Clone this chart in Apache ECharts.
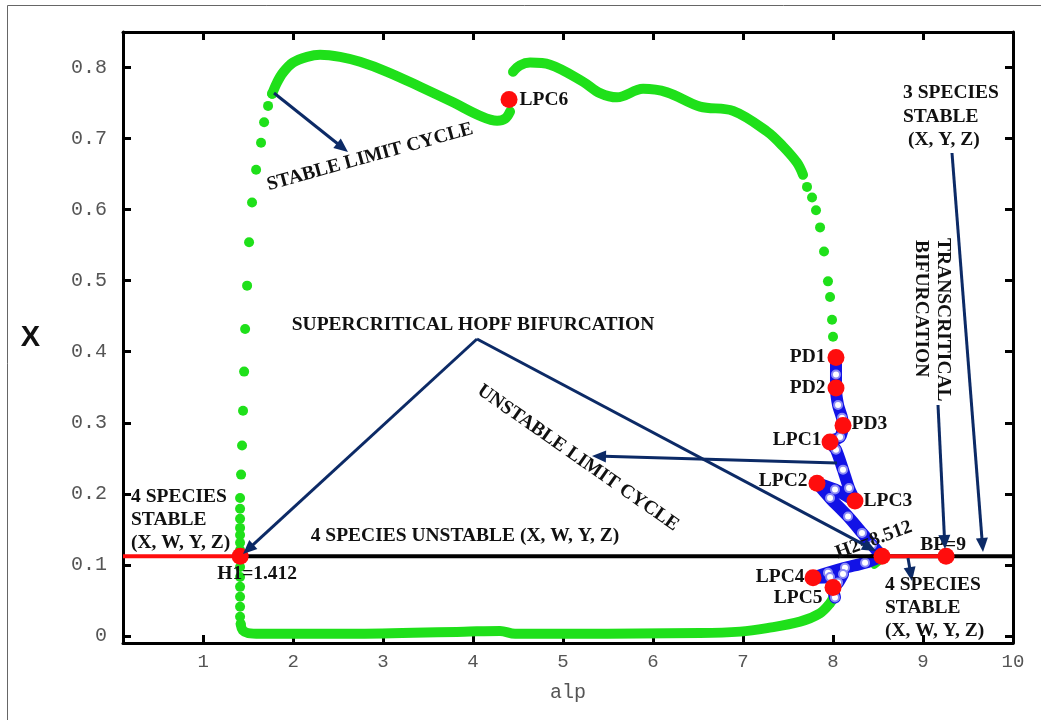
<!DOCTYPE html>
<html><head><meta charset="utf-8">
<script src="https://cdn.jsdelivr.net/npm/echarts@6/dist/echarts.min.js"></script>
<style>html,body{margin:0;padding:0;background:#fff}#c{width:1041px;height:720px}</style>
</head><body><div id="c"></div>
<script>
// ---------- data ----------
const xTicks = [1, 2, 3, 4, 5, 6, 7, 8, 9, 10];
const yTicks = [0, 0.1, 0.2, 0.3, 0.4, 0.5, 0.6, 0.7, 0.8];
const xRange = [0.11, 10];
const yRange = [-0.01, 0.85];

// equilibrium branch X = 0.112
const eqStableLeft = [[0.11, 0.112], [1.412, 0.112]];
const eqUnstable = [[1.412, 0.112], [10, 0.112]];
const eqStableRight = [[8.544, 0.112], [9.256, 0.112]];

// stable limit cycle (green), sparse dots
const cycleRiseDots = [
  [1.411, 0.121], [1.411, 0.131], [1.411, 0.142], [1.411, 0.152], [1.411, 0.165],
  [1.411, 0.179], [1.411, 0.194], [1.422, 0.227], [1.433, 0.268], [1.444, 0.317],
  [1.456, 0.372], [1.467, 0.432], [1.489, 0.493], [1.511, 0.554], [1.544, 0.610],
  [1.589, 0.656], [1.644, 0.694], [1.678, 0.723], [1.722, 0.746], [1.767, 0.763]
];
const cycleFallDots = [
  [1.411, 0.097], [1.411, 0.083], [1.411, 0.069], [1.411, 0.055], [1.411, 0.041],
  [1.411, 0.027], [1.418, 0.017]
];
const cycleDropDots = [
  [7.711, 0.632], [7.767, 0.617], [7.811, 0.599], [7.856, 0.575], [7.900, 0.541],
  [7.944, 0.499], [7.967, 0.477], [7.989, 0.445], [8.000, 0.421], [8.033, 0.372]
];
// stable limit cycle (green), dense parts
const cycleUpperA = [
  [1.767, 0.763], [1.822, 0.779], [1.889, 0.793], [2.000, 0.807], [2.156, 0.815],
  [2.300, 0.818], [2.522, 0.815], [2.744, 0.808], [3.044, 0.794], [3.411, 0.773],
  [3.778, 0.751], [4.078, 0.732], [4.267, 0.725], [4.356, 0.728], [4.411, 0.738]
];
const cycleUpperB = [
  [4.444, 0.794], [4.522, 0.803], [4.633, 0.807], [4.856, 0.804], [5.222, 0.780],
  [5.411, 0.764], [5.600, 0.758], [5.889, 0.770], [6.156, 0.765], [6.522, 0.745],
  [6.889, 0.739], [7.267, 0.710], [7.444, 0.689], [7.600, 0.666], [7.667, 0.649]
];
const cycleLower = [
  [1.418, 0.016], [1.440, 0.008], [1.500, 0.004], [1.633, 0.003], [2.633, 0.003],
  [3.900, 0.006], [4.300, 0.007], [4.467, 0.003], [6.522, 0.004], [6.967, 0.006],
  [7.267, 0.011], [7.633, 0.020], [7.856, 0.032], [7.967, 0.046], [8.011, 0.056]
];
const cycleNearH2 = [[8.389, 0.136], [8.544, 0.112], [8.460, 0.100]];

// unstable limit cycle (blue)
const unstableMax = [
  [8.033, 0.392], [8.033, 0.368], [8.033, 0.349], [8.056, 0.325], [8.100, 0.307],
  [8.111, 0.296], [8.078, 0.280], [7.967, 0.273], [8.033, 0.262], [8.111, 0.234],
  [8.178, 0.208], [8.244, 0.190], [8.022, 0.206], [7.822, 0.215], [7.967, 0.194],
  [8.167, 0.168], [8.322, 0.145], [8.433, 0.128], [8.544, 0.112]
];
const unstableMin = [
  [8.544, 0.112], [8.356, 0.103], [8.133, 0.096], [7.944, 0.089], [7.778, 0.082],
  [7.967, 0.083], [8.111, 0.087], [8.056, 0.075], [8.000, 0.068], [8.022, 0.054]
];

// special points
const pointNames = ['H1=1.412', 'H2=8.512', 'BP=9', 'PD1', 'PD2', 'PD3', 'LPC1', 'LPC2', 'LPC3', 'LPC4', 'LPC5', 'LPC6'];
const pointX = [1.412, 8.544, 9.256, 8.033, 8.033, 8.111, 7.967, 7.822, 8.244, 7.778, 8.000, 4.400];
const pointY = [0.112, 0.112, 0.112, 0.392, 0.349, 0.296, 0.273, 0.215, 0.190, 0.082, 0.068, 0.755];

// ---------- styles ----------
const GREEN = '#1fe01a', BLUE = '#1212e6', RED = '#ff0d0d', NAVY = '#0c2a66', INK = '#111';
const SERIF = '"Liberation Serif","Times New Roman",serif';
const MONO = '"Liberation Mono","Courier New",monospace';
const labelStyle = {
  'H1=1.412': { position: 'bottom', distance: 0, offset: [17, -1] },
  'H2=8.512': { position: 'inside', offset: [-2, -18], rotate: 20 },
  'BP=9': { position: 'inside', offset: [-3, -11] },
  'PD1': { position: 'left', distance: 2 },
  'PD2': { position: 'left', distance: 2 },
  'PD3': { position: 'right', distance: 0, offset: [0, -2] },
  'LPC1': { position: 'left', distance: 0, offset: [0, -2] },
  'LPC2': { position: 'left', distance: 1, offset: [0, -2] },
  'LPC3': { position: 'right', distance: 0 },
  'LPC4': { position: 'left', distance: 0, offset: [0, -1] },
  'LPC5': { position: 'left', distance: 2, offset: [0, 10] },
  'LPC6': { position: 'right', distance: 2 }
};

function arrow(x1, y1, x2, y2, head) {
  const els = [];
  let ex = x2, ey = y2;
  if (head) {
    const a = Math.atan2(y2 - y1, x2 - x1), L = 14, W = 6;
    const bx = x2 - L * Math.cos(a), by = y2 - L * Math.sin(a);
    ex = bx + 2 * Math.cos(a); ey = by + 2 * Math.sin(a);
    els.push({ type: 'polygon', z: 100, shape: { points: [[x2, y2], [bx + W * Math.sin(a), by - W * Math.cos(a)], [bx - W * Math.sin(a), by + W * Math.cos(a)]] }, style: { fill: NAVY } });
  }
  els.unshift({ type: 'line', z: 100, shape: { x1, y1, x2: ex, y2: ey }, style: { stroke: NAVY, lineWidth: 3 } });
  return els;
}
function txt(t, x, y, align, rot) {
  return { type: 'text', z: 101, x, y, rotation: rot || 0,
    style: { text: t, x: 0, y: 0, fill: INK, font: 'bold 19.5px ' + SERIF,
      textAlign: align || 'center', textVerticalAlign: 'middle', align: align || 'center', verticalAlign: 'middle' } };
}

const graphics = [
  { type: 'rect', z: 0, shape: { x: 7.5, y: 5.5, width: 1040, height: 720 }, style: { fill: 'none', stroke: '#666', lineWidth: 1 } },
  ...arrow(274, 93, 348, 152, true),
  ...arrow(477, 339, 243, 554, true),
  ...arrow(477, 339, 876, 551, true),
  ...arrow(837, 463, 592, 456, true),
  ...arrow(908, 558, 912, 581, true),
  ...arrow(952, 153, 983, 552, true),
  ...arrow(938, 405, 945, 549, true),
  txt('STABLE LIMIT CYCLE', 370, 157, 'center', 0.27),
  txt('UNSTABLE LIMIT CYCLE', 578, 458, 'center', -0.61),
  txt('SUPERCRITICAL HOPF BIFURCATION', 473, 325),
  txt('4 SPECIES UNSTABLE (X, W, Y, Z)', 465, 536),
  txt('4 SPECIES', 131, 497, 'left'),
  txt('STABLE', 131, 520, 'left'),
  txt('(X, W, Y, Z)', 131, 543, 'left'),
  txt('4 SPECIES', 885, 585, 'left'),
  txt('STABLE', 885, 608, 'left'),
  txt('(X, W, Y, Z)', 885, 631, 'left'),
  txt('3 SPECIES', 903, 93, 'left'),
  txt('STABLE', 903, 117, 'left'),
  txt('(X, Y, Z)', 908, 140, 'left'),
  txt('TRANSCRITICAL', 943, 238, 'left', -Math.PI / 2),
  txt('BIFURCATION', 921, 240, 'left', -Math.PI / 2)
];

const axisLineStyle = { lineStyle: { color: '#000', width: 3 } };
function xAx(pos, showLabel) {
  return {
    type: 'value', position: pos, min: xRange[0], max: xRange[1],
    name: showLabel ? 'alp' : '', nameLocation: 'middle', nameGap: 40,
    nameTextStyle: { fontFamily: MONO, fontSize: 20, color: '#555' },
    axisLine: { show: true, onZero: false, ...axisLineStyle },
    axisTick: { show: true, inside: true, length: 8, customValues: xTicks, lineStyle: { color: '#000', width: 3 } },
    axisLabel: { show: showLabel, customValues: xTicks, margin: 9, fontFamily: MONO, fontSize: 19, color: '#555' },
    splitLine: { show: false }
  };
}
function yAx(pos, showLabel) {
  return {
    type: 'value', position: pos, min: yRange[0], max: yRange[1],
    name: showLabel ? 'X' : '', nameLocation: 'middle', nameGap: 83, nameRotate: 0,
    nameTextStyle: { fontFamily: '"Liberation Sans",Arial,sans-serif', fontWeight: 'bold', fontSize: 29, color: INK },
    axisLine: { show: true, onZero: false, ...axisLineStyle },
    axisTick: { show: true, inside: true, length: 8, customValues: yTicks, lineStyle: { color: '#000', width: 3 } },
    axisLabel: { show: showLabel, customValues: yTicks, margin: 16, fontFamily: MONO, fontSize: 20, color: '#555',
      formatter: v => (v === 0 ? '0' : v.toFixed(1)) },
    splitLine: { show: false }
  };
}

function greenLine(data, w) {
  return { type: 'line', data, showSymbol: false, smooth: 0.35, z: 3, silent: true,
    lineStyle: { color: GREEN, width: w || 10, cap: 'round', join: 'round', opacity: 1 } };
}
function greenDots(data) {
  return { type: 'scatter', data, symbolSize: 10, z: 3, silent: true, itemStyle: { color: GREEN, opacity: 1 } };
}
function blueLine(data) {
  return { type: 'line', data, showSymbol: true, symbol: 'emptyCircle', symbolSize: 8, smooth: 0.25, z: 4, silent: true,
    itemStyle: { color: '#8a8af5', borderColor: BLUE, borderWidth: 2, opacity: 1 },
    lineStyle: { color: BLUE, width: 12, cap: 'round', join: 'round', opacity: 1 } };
}
function eqLine(data, color) {
  return { type: 'line', data, showSymbol: false, z: 5, silent: true, lineStyle: { color, width: 4, opacity: 1 } };
}

const points = pointNames.map((n, i) => ({
  value: [pointX[i], pointY[i]],
  label: Object.assign({ show: true, formatter: n }, labelStyle[n])
}));

const option = {
  animation: false,
  backgroundColor: '#fff',
  grid: { left: 123, right: 28, top: 32, bottom: 77 },
  xAxis: [xAx('bottom', true), xAx('top', false)],
  yAxis: [yAx('left', true), yAx('right', false)],
  series: [
    greenLine(cycleUpperA), greenLine(cycleUpperB), greenLine(cycleLower),
    greenDots(cycleRiseDots), greenDots(cycleFallDots), greenDots(cycleDropDots),
    greenLine(cycleNearH2, 8),
    blueLine(unstableMax), blueLine(unstableMin),
    eqLine(eqUnstable, '#000'), eqLine(eqStableLeft, RED), eqLine(eqStableRight, RED),
    { type: 'scatter', data: points, symbolSize: 17, z: 6, silent: true, itemStyle: { color: RED, opacity: 1 },
      label: { fontFamily: SERIF, fontWeight: 'bold', fontSize: 19.5, color: INK } }
  ],
  graphic: graphics
};
const chart = echarts.init(document.getElementById('c'), null, { renderer: 'canvas' });
chart.setOption(option);
</script></body></html>
